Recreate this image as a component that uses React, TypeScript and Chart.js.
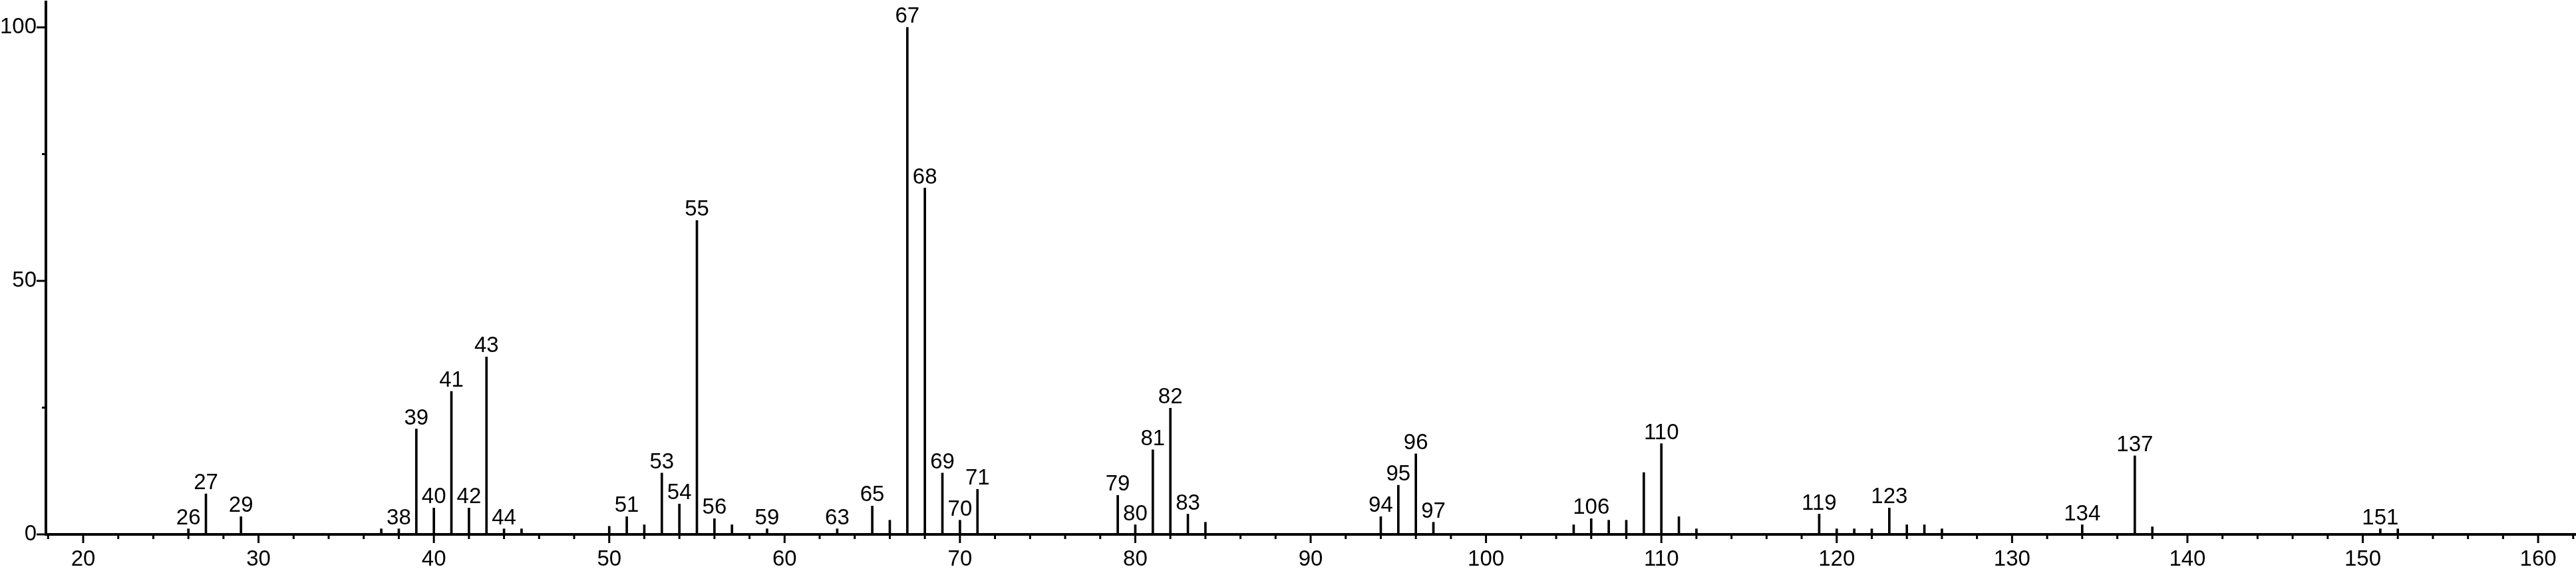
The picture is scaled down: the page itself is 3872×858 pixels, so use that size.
import React, { useEffect, useRef } from 'react';
import { Chart, registerables } from 'chart.js';

Chart.register(...registerables);

// m/z values of the peaks
const mzValues = [
  26, 27, 29, 37, 38, 39, 40, 41, 42, 43, 44, 45,
  50, 51, 52, 53, 54, 55, 56, 57, 59, 63, 65, 66,
  67, 68, 69, 70, 71, 79, 80, 81, 82, 83, 84,
  94, 95, 96, 97, 105, 106, 107, 108, 109, 110, 111, 112,
  119, 120, 121, 122, 123, 124, 125, 126, 134, 137, 138, 151, 152,
];

// relative intensities (%)
const intensities = [
  1.1, 8.0, 3.5, 1.1, 1.1, 20.8, 5.2, 28.2, 5.2, 35.0, 1.1, 1.1,
  1.6, 3.5, 1.9, 12.1, 6.0, 61.9, 3.1, 1.9, 1.1, 1.1, 5.6, 2.8,
  100, 68.3, 12.1, 2.8, 8.9, 7.7, 1.9, 16.7, 24.9, 4.0, 2.4,
  3.5, 9.7, 15.9, 2.4, 1.9, 3.1, 2.8, 2.8, 12.2, 17.9, 3.5, 1.1,
  4.0, 1.1, 1.1, 1.1, 5.2, 1.9, 1.9, 1.1, 1.9, 15.5, 1.5, 1.1, 1.1,
];

// peaks that carry an m/z label
const labeledPeaks = [
  26, 27, 29, 38, 39, 40, 41, 42, 43, 44, 51, 53, 54, 55, 56, 59, 63, 65,
  67, 68, 69, 70, 71, 79, 80, 81, 82, 83, 94, 95, 96, 97, 106, 110, 119,
  123, 134, 137, 151,
];

// axis ranges and tick steps
const xRange = [17.875, 162.16];
const yRange = [0, 105];
const xMajorStep = 10;
const xMinorStep = 2;
const yMajorTicks = [0, 50, 100];
const yMinorTicks = [25, 75];

const FONT = "'Liberation Sans', Arial, Helvetica, sans-serif";

const tickMarksPlugin = {
  id: 'tickMarks',
  afterDraw(chart: any) {
    const { ctx, chartArea, scales } = chart;
    const xs = scales.x;
    const ys = scales.y;
    ctx.save();
    ctx.strokeStyle = '#000';
    ctx.lineWidth = 3;
    // x ticks
    const startX = Math.ceil(xRange[0] / xMinorStep) * xMinorStep;
    for (let v = startX; v <= xRange[1]; v += xMinorStep) {
      const px = xs.getPixelForValue(v);
      const len = v % xMajorStep === 0 ? 13 : 7;
      ctx.beginPath();
      ctx.moveTo(px, chartArea.bottom);
      ctx.lineTo(px, chartArea.bottom + len);
      ctx.stroke();
    }
    // y ticks
    yMajorTicks.concat(yMinorTicks).forEach((v) => {
      const py = ys.getPixelForValue(v);
      const len = yMajorTicks.includes(v) ? 14 : 6;
      ctx.beginPath();
      ctx.moveTo(chartArea.left - len, py);
      ctx.lineTo(chartArea.left, py);
      ctx.stroke();
    });
    ctx.restore();
  },
};

const peakLabelPlugin = {
  id: 'peakLabels',
  afterDatasetsDraw(chart: any) {
    const { ctx } = chart;
    const meta = chart.getDatasetMeta(0);
    ctx.save();
    ctx.fillStyle = '#000';
    ctx.font = `33px ${FONT}`;
    ctx.textAlign = 'center';
    ctx.textBaseline = 'alphabetic';
    meta.data.forEach((el: any, i: number) => {
      const mz = mzValues[i];
      if (!labeledPeaks.includes(mz)) return;
      ctx.fillText(String(mz), el.x, el.y - 7);
    });
    ctx.restore();
  },
};

export default function App() {
  const canvasRef = useRef<HTMLCanvasElement | null>(null);

  useEffect(() => {
    const canvas = canvasRef.current;
    if (!canvas) return;
    const chart = new Chart(canvas, {
      type: 'bar',
      data: {
        datasets: [
          {
            data: mzValues.map((x, i) => ({ x, y: intensities[i] })),
            backgroundColor: '#000',
            borderWidth: 0,
            barThickness: 3,
          },
        ],
      },
      options: {
        responsive: false,
        animation: false,
        events: [],
        layout: { padding: { top: 3, left: 0, right: 0, bottom: 0 } },
        plugins: {
          legend: { display: false },
          tooltip: { enabled: false },
          title: { display: false },
        },
        scales: {
          x: {
            type: 'linear',
            offset: false,
            min: xRange[0],
            max: xRange[1],
            afterFit(scale: any) {
              scale.height = 55;
              scale.paddingLeft = 0;
              scale.paddingRight = 0;
            },
            grid: { display: false, drawTicks: false },
            border: { display: true, color: '#000', width: 4 },
            ticks: {
              stepSize: xMajorStep,
              includeBounds: false,
              autoSkip: false,
              maxRotation: 0,
              padding: 18,
              color: '#000',
              font: { family: FONT, size: 33 },
              callback: (v: any) => (Number(v) % xMajorStep === 0 ? String(v) : ''),
            },
          },
          y: {
            type: 'linear',
            min: yRange[0],
            max: yRange[1],
            afterFit(scale: any) {
              scale.width = 69;
              scale.paddingTop = 0;
              scale.paddingBottom = 0;
            },
            afterBuildTicks(scale: any) {
              scale.ticks = yMajorTicks.map((v) => ({ value: v }));
            },
            grid: { display: false, drawTicks: false },
            border: { display: true, color: '#000', width: 4 },
            ticks: {
              padding: 14,
              color: '#000',
              font: { family: FONT, size: 33 },
              callback: (v: any) => String(v),
            },
          },
        },
      },
      plugins: [tickMarksPlugin, peakLabelPlugin],
    });
    return () => chart.destroy();
  }, []);

  return (
    <div style={{ position: 'fixed', left: 0, top: 0, width: 3872, height: 858, background: '#fff' }}>
      <canvas ref={canvasRef} width={3872} height={858} style={{ display: 'block' }} />
    </div>
  );
}
